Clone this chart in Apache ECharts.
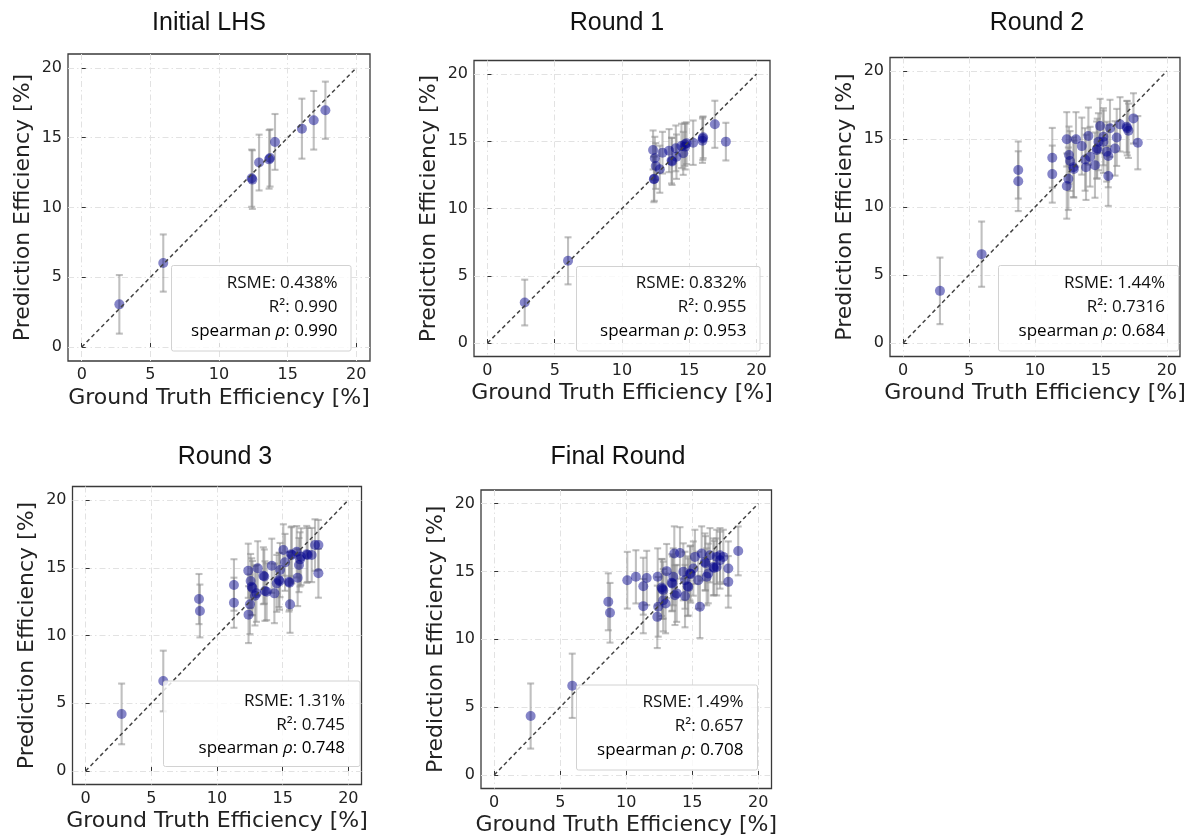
<!DOCTYPE html>
<html>
<head>
<meta charset="utf-8">
<script src="https://cdn.jsdelivr.net/npm/echarts@6/dist/echarts.min.js"></script>
<style>
html,body{margin:0;padding:0;background:#fff;}
#chart{width:1189px;height:840px;}
</style>
</head>
<body>
<div id="chart"></div>
<script>
// ---------------- DATA ----------------
const tickValues = [0, 5, 10, 15, 20];
const panelTitles = ['Initial LHS', 'Round 1', 'Round 2', 'Round 3', 'Final Round'];
const rsmeValues = ['0.438%', '0.832%', '1.44%', '1.31%', '1.49%'];
const r2Values = ['0.990', '0.955', '0.7316', '0.745', '0.657'];
const spearmanValues = ['0.990', '0.953', '0.684', '0.748', '0.708'];
const xAxisName = 'Ground Truth Efficiency [%]';
const yAxisName = 'Prediction Efficiency [%]';
const diagonal = [[0, 0], [20, 20]];

// Initial LHS
const lhsX   = [2.74, 5.94, 12.43, 12.38, 12.92, 13.65, 13.72, 14.08, 16.04, 16.90, 17.75];
const lhsY   = [3.06, 6.02, 12.00, 12.10, 13.22, 13.45, 13.55, 14.70, 15.65, 16.25, 16.97];
const lhsErr = [2.10, 2.05, 2.10, 2.05, 2.00, 2.10, 2.05, 2.00, 2.15, 2.10, 2.05];

// Round 1
const r1X   = [2.77, 5.99, 12.37, 12.40, 12.31, 12.44, 12.51, 12.81, 13.01, 13.50, 13.68, 13.72, 14.00, 14.05, 14.42, 14.67, 14.70, 14.55, 14.80, 15.29, 16.03, 16.00, 15.98, 16.90, 17.72];
const r1Y   = [3.01, 6.11, 12.17, 12.22, 14.35, 13.73, 13.16, 12.92, 14.15, 14.30, 13.56, 13.50, 14.47, 13.85, 14.65, 14.77, 14.60, 14.10, 14.85, 14.89, 15.29, 15.20, 15.04, 16.26, 14.97];
const r1Err = [1.70, 1.75, 1.70, 1.65, 1.45, 1.60, 1.70, 1.75, 1.55, 1.60, 1.70, 1.75, 1.70, 1.65, 1.65, 1.60, 1.70, 1.60, 1.55, 1.65, 1.55, 1.60, 1.65, 1.75, 1.40];

// Round 2
const r2X   = [2.79, 5.95, 8.73, 8.73, 11.31, 11.31, 12.41, 12.41, 12.58, 12.66, 12.53, 12.91, 12.95, 13.11, 13.55, 13.80, 13.87, 14.05, 14.18, 14.55, 14.68, 14.72, 14.81, 14.94, 15.19, 15.19, 15.44, 15.56, 15.56, 15.69, 16.07, 16.20, 16.45, 16.96, 17.00, 17.09, 17.47, 17.80];
const r2Y   = [3.83, 6.53, 12.72, 11.90, 13.62, 12.42, 14.98, 11.54, 13.82, 13.38, 12.08, 12.92, 12.80, 14.98, 14.48, 13.50, 12.92, 15.22, 13.70, 13.08, 14.19, 14.30, 14.80, 15.96, 14.80, 15.17, 14.07, 13.75, 12.28, 15.79, 14.31, 15.12, 16.08, 15.91, 15.80, 15.61, 16.52, 14.73];
const r2Err = [2.45, 2.40, 2.10, 2.20, 2.20, 2.10, 2.00, 2.40, 2.10, 2.20, 2.30, 2.20, 2.10, 2.00, 2.10, 2.30, 2.40, 2.10, 2.20, 2.40, 2.10, 2.20, 2.10, 2.00, 2.30, 2.10, 2.20, 2.30, 2.20, 2.10, 2.00, 2.10, 2.00, 1.90, 2.00, 2.00, 1.85, 1.96];

// Round 3
const r3X   = [2.74, 5.91, 8.63, 8.70, 11.29, 11.29, 12.38, 12.40, 12.51, 12.56, 12.64, 12.70, 12.89, 13.00, 13.10, 13.53, 13.60, 13.65, 13.78, 14.17, 14.37, 14.55, 14.72, 14.76, 14.80, 15.05, 15.18, 15.48, 15.52, 15.56, 15.64, 15.70, 16.07, 16.14, 16.24, 16.32, 16.40, 16.83, 16.90, 17.21, 17.46, 17.72, 17.72];
const r3Y   = [4.21, 6.64, 12.69, 11.81, 13.73, 12.42, 14.78, 11.54, 12.30, 14.02, 13.60, 13.50, 12.94, 13.11, 14.96, 14.41, 14.35, 13.28, 13.23, 15.15, 13.11, 13.85, 14.10, 14.00, 14.83, 16.31, 15.40, 13.97, 13.90, 12.30, 15.99, 15.95, 16.18, 14.27, 15.20, 15.62, 15.82, 15.99, 15.95, 15.94, 16.68, 16.68, 14.59];
const r3Err = [2.24, 2.24, 1.85, 1.95, 1.90, 1.85, 2.00, 2.10, 2.20, 2.00, 2.10, 2.00, 2.20, 2.10, 2.00, 2.10, 2.00, 2.20, 2.10, 2.00, 2.20, 2.10, 2.00, 2.10, 2.00, 1.90, 2.10, 2.20, 2.00, 2.10, 2.00, 2.10, 1.90, 2.10, 2.00, 2.00, 2.10, 2.10, 2.00, 2.00, 1.90, 1.85, 1.80];

// Final Round
const frX   = [2.76, 5.91, 8.64, 8.77, 10.08, 10.73, 11.29, 11.29, 11.55, 12.38, 12.35, 12.42, 12.68, 12.72, 12.80, 12.80, 13.06, 12.98, 13.44, 13.50, 13.64, 14.07, 13.69, 13.82, 14.32, 14.45, 14.45, 14.65, 14.70, 14.83, 14.88, 15.08, 15.20, 15.45, 15.58, 15.71, 15.96, 16.00, 16.09, 16.21, 16.34, 16.59, 16.65, 16.85, 16.85, 17.10, 17.10, 17.35, 17.73, 17.73, 18.48, 13.56];
const frY   = [4.34, 6.57, 12.76, 11.95, 14.35, 14.60, 13.91, 12.44, 14.52, 14.60, 11.65, 12.39, 13.82, 13.70, 12.88, 13.62, 15.02, 12.64, 14.16, 14.10, 16.32, 16.36, 13.25, 13.38, 14.97, 13.18, 14.35, 13.91, 13.85, 14.85, 14.80, 15.21, 16.07, 14.35, 12.39, 16.32, 15.70, 15.60, 14.60, 14.85, 16.19, 15.33, 15.25, 16.07, 15.33, 16.19, 15.83, 16.07, 15.21, 14.23, 16.51, 14.60];
const frErr = [2.40, 2.37, 2.10, 2.20, 2.09, 1.96, 2.10, 2.00, 2.00, 2.10, 2.30, 2.20, 2.10, 2.20, 2.30, 2.10, 2.00, 2.20, 2.10, 2.00, 2.00, 1.90, 2.20, 2.10, 2.10, 2.30, 2.10, 2.20, 2.10, 2.00, 2.10, 2.00, 2.00, 2.10, 2.30, 2.00, 2.10, 2.00, 2.10, 2.20, 2.00, 2.10, 2.00, 2.00, 2.10, 2.00, 2.10, 2.00, 2.00, 1.90, 1.80, 2.10];

const panelX = [lhsX, r1X, r2X, r3X, frX];
const panelY = [lhsY, r1Y, r2Y, r3Y, frY];
const panelErr = [lhsErr, r1Err, r2Err, r3Err, frErr];

// ---------------- LAYOUT ----------------
const grids = [
  {left: 68, top: 54, width: 302, height: 307},
  {left: 474, top: 60.5, width: 296, height: 296},
  {left: 890, top: 57.5, width: 290, height: 299},
  {left: 72.5, top: 486.5, width: 289, height: 298},
  {left: 481, top: 490, width: 290.5, height: 298.5}
];
const titlePos = [[209, 23], [617, 23], [1037, 23], [225, 457], [618, 457]];
const boxes = [
  {x: 171.5, y: 265.5, w: 179.5, h: 85.5, tx: 337.5, ty: [283.5, 307, 331]},
  {x: 576.5, y: 266.5, w: 183.5, h: 84.5, tx: 746.5, ty: [283.5, 307, 331]},
  {x: 998.5, y: 265.5, w: 180, h: 85.5, tx: 1165, ty: [283.5, 307, 331]},
  {x: 163.5, y: 681, w: 196.5, h: 85.5, tx: 345, ty: [701, 725, 748.5]},
  {x: 576.5, y: 685, w: 181, h: 85, tx: 743.5, ty: [702, 726, 750]}
];

const AX_FONT = 'DejaVu Sans';
const STAT_FONT = 'Open Sans';
const gridOpt = [], xAxes = [], yAxes = [], series = [], graphics = [];

for (let i = 0; i < 5; i++) {
  gridOpt.push(Object.assign({show: true, borderColor: '#3a3a3a', borderWidth: 1.3, backgroundColor: 'transparent'}, grids[i]));
  const axisCommon = {
    type: 'value', gridIndex: i, min: -1, max: 21,
    axisLine: {show: false},
    axisTick: {show: true, inside: true, length: 4, lineStyle: {color: '#333', width: 1}, customValues: tickValues},
    axisLabel: {customValues: tickValues, fontFamily: AX_FONT, fontSize: 16, color: '#222', margin: 6},
    splitLine: {show: true, lineStyle: {color: '#e2e2e2', width: 1, type: [6, 3, 1.5, 3]}},
    nameLocation: 'middle',
    nameTextStyle: {fontFamily: AX_FONT, fontSize: 22, color: '#222'}
  };
  xAxes.push(Object.assign({}, axisCommon, {name: xAxisName, nameGap: 26}));
  yAxes.push(Object.assign({}, axisCommon, {name: yAxisName, nameGap: 34}));

  const pts = panelX[i].map((x, k) => [x, panelY[i][k], panelErr[i][k]]);
  series.push({
    type: 'custom', xAxisIndex: i, yAxisIndex: i, z: 2, silent: true,
    data: pts,
    renderItem: function (params, api) {
      const x = api.value(0), y = api.value(1), e = api.value(2);
      const t = api.coord([x, y + e]);
      const b = api.coord([x, y - e]);
      const cw = 3.5;
      const st = {stroke: 'rgba(140,140,140,0.55)', lineWidth: 2.1};
      return {
        type: 'group',
        children: [
          {type: 'line', shape: {x1: t[0], y1: t[1], x2: b[0], y2: b[1]}, style: st},
          {type: 'line', shape: {x1: t[0] - cw, y1: t[1], x2: t[0] + cw, y2: t[1]}, style: st},
          {type: 'line', shape: {x1: b[0] - cw, y1: b[1], x2: b[0] + cw, y2: b[1]}, style: st}
        ]
      };
    }
  });
  series.push({
    type: 'scatter', xAxisIndex: i, yAxisIndex: i, z: 3, silent: true,
    data: pts.map(p => [p[0], p[1]]),
    symbol: 'circle', symbolSize: 10,
    itemStyle: {color: 'rgba(0,0,139,0.6)', borderWidth: 0}
  });
  series.push({
    type: 'line', xAxisIndex: i, yAxisIndex: i, z: 4, silent: true,
    data: diagonal, symbol: 'none',
    lineStyle: {color: '#444', width: 1.5, type: [4, 3]}
  });

  graphics.push({
    type: 'text', x: titlePos[i][0], y: titlePos[i][1], z: 100,
    style: {text: panelTitles[i], font: '25px "Liberation Sans", Arial, sans-serif', fill: '#111', align: 'center', verticalAlign: 'middle'}
  });
  const bx = boxes[i];
  graphics.push({
    type: 'rect', z: 100,
    shape: {x: bx.x, y: bx.y, width: bx.w, height: bx.h, r: 2},
    style: {fill: 'rgba(255,255,255,0.8)', stroke: '#d2d2d2', lineWidth: 1}
  });
  graphics.push({
    type: 'text', x: bx.tx, y: bx.ty[0], z: 101,
    style: {text: 'RSME: ' + rsmeValues[i], font: '17px "Open Sans"', fill: '#111', align: 'right', verticalAlign: 'middle'}
  });
  graphics.push({
    type: 'text', x: bx.tx, y: bx.ty[1], z: 101,
    style: {text: 'R²: ' + r2Values[i], font: '17px "Open Sans"', fill: '#111', align: 'right', verticalAlign: 'middle'}
  });
  graphics.push({
    type: 'text', x: bx.tx, y: bx.ty[2], z: 101,
    style: {
      text: '{a|spearman }{b|ρ}{a|: ' + spearmanValues[i] + '}',
      align: 'right', verticalAlign: 'middle',
      rich: {
        a: {fontFamily: STAT_FONT, fontSize: 17, color: '#111'},
        b: {fontFamily: STAT_FONT, fontSize: 17, color: '#111', fontStyle: 'italic'}
      }
    }
  });
}

const chart = echarts.init(document.getElementById('chart'), null, {renderer: 'canvas'});
chart.setOption({
  animation: false,
  backgroundColor: '#ffffff',
  grid: gridOpt,
  xAxis: xAxes,
  yAxis: yAxes,
  series: series,
  graphic: graphics
});
</script>
</body>
</html>
